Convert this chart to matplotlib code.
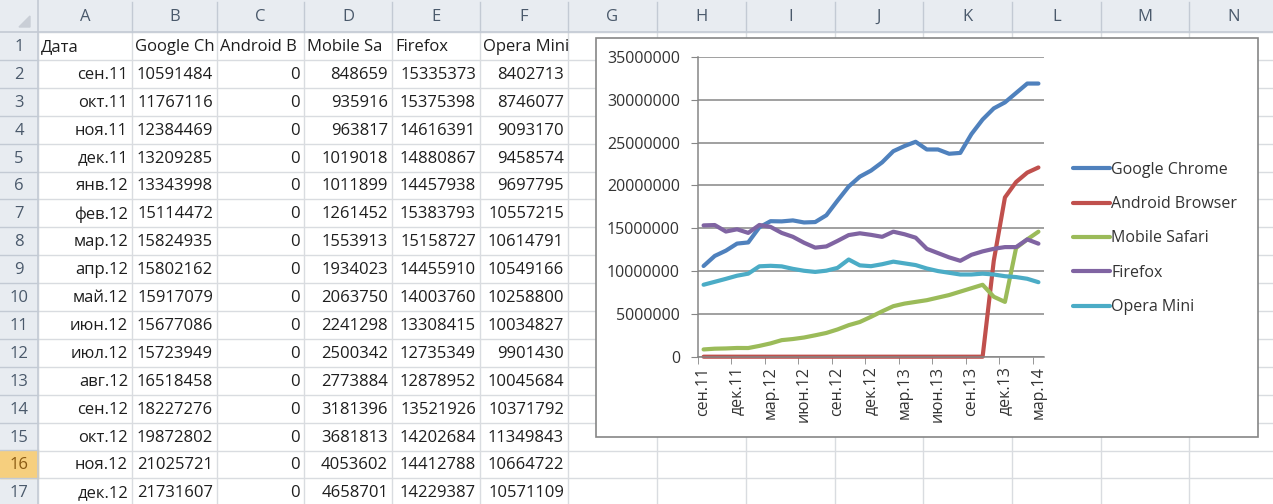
"""Excel screenshot: browser traffic table with a line chart."""

import matplotlib

matplotlib.use("Agg")

import matplotlib.pyplot as plt
from matplotlib.patches import Polygon, Rectangle
from matplotlib.ticker import StrMethodFormatter

# --- data -----------------------------------------------------------------
months = [
    "сен.11", "окт.11", "ноя.11", "дек.11", "янв.12", "фев.12", "мар.12",
    "апр.12", "май.12", "июн.12", "июл.12", "авг.12", "сен.12", "окт.12",
    "ноя.12", "дек.12", "янв.13", "фев.13", "мар.13", "апр.13", "май.13",
    "июн.13", "июл.13", "авг.13", "сен.13", "окт.13", "ноя.13", "дек.13",
    "янв.14", "фев.14", "мар.14",
]
series_names = ["Google Chrome", "Android Browser", "Mobile Safari", "Firefox", "Opera Mini"]
# header cells as the sheet shows them (long names are cut by the next cell)
header_cells = ["Дата", "Google Ch", "Android B", "Mobile Sa", "Firefox", "Opera Mini"]
chrome = [
    10591484, 11767116, 12384469, 13209285, 13343998, 15114472, 15824935,
    15802162, 15917079, 15677086, 15723949, 16518458, 18227276, 19872802,
    21025721, 21731607, 22700000, 24000000, 24600000, 25100000, 24200000,
    24200000, 23700000, 23800000, 26000000, 27700000, 29000000, 29700000,
    30800000, 31900000, 31900000,
]
android = [
    0, 0, 0, 0, 0, 0, 0, 0, 0, 0, 0, 0, 0, 0, 0, 0, 0, 0, 0, 0, 0, 0, 0, 0,
    0, 0, 11200000, 18600000, 20400000, 21500000, 22100000,
]
safari = [
    848659, 935916, 963817, 1019018, 1011899, 1261452, 1553913, 1934023,
    2063750, 2241298, 2500342, 2773884, 3181396, 3681813, 4053602, 4658701,
    5300000, 5900000, 6200000, 6400000, 6600000, 6900000, 7200000, 7600000,
    8000000, 8400000, 7000000, 6400000, 12700000, 13700000, 14600000,
]
firefox = [
    15335373, 15375398, 14616391, 14880867, 14457938, 15383793, 15158727,
    14455910, 14003760, 13308415, 12735349, 12878952, 13521926, 14202684,
    14412788, 14229387, 14000000, 14600000, 14300000, 13900000, 12600000,
    12100000, 11600000, 11200000, 11900000, 12300000, 12600000, 12800000,
    12800000, 13700000, 13200000,
]
opera = [
    8402713, 8746077, 9093170, 9458574, 9697795, 10557215, 10614791,
    10549166, 10258800, 10034827, 9901430, 10045684, 10371792, 11349843,
    10664722, 10571109, 10800000, 11100000, 10900000, 10700000, 10300000,
    10000000, 9800000, 9600000, 9600000, 9700000, 9600000, 9400000,
    9300000, 9100000, 8700000,
]
column_letters = ["A", "B", "C", "D", "E", "F", "G", "H", "I", "J", "K", "L", "M", "N"]
visible_rows = 16  # data rows shown in the sheet (rows 2..17)

# --- layout (pixels of the 1273x504 screenshot) ----------------------------
W, H = 1273, 504
col_edges = [0, 38, 132, 217, 304, 392, 480, 568, 657, 746, 835, 923, 1012, 1101, 1189, 1278]
header_h = 32
row_h = 27.9

HEAD_BG = "#E8ECF1"
HEAD_LINE = "#C3CAD4"
HEAD_TEXT = "#4A596B"
GRID = "#D9DCE0"
CELL_TEXT = "#1E1E1E"
SERIES_COLORS = ["#4F81BD", "#C0504D", "#9BBB59", "#8064A2", "#4BACC6"]
AXIS_GRAY = "#868686"

plt.rcParams["font.family"] = ["Open Sans", "DejaVu Sans"]

fig = plt.figure(figsize=(W / 100, H / 100), dpi=100)
sheet = fig.add_axes([0, 0, 1, 1])
sheet.set_xlim(0, W)
sheet.set_ylim(H, 0)
sheet.axis("off")


def row_top(r):
    return header_h + (r - 1) * row_h


# grid lines
for x in col_edges[1:]:
    sheet.plot([x, x], [header_h, H], color=GRID, lw=1)
for r in range(1, 19):
    y = row_top(r)
    sheet.plot([col_edges[1], W], [y, y], color=GRID, lw=1)

# column header strip
sheet.add_patch(Rectangle((0, 0), W, header_h, color=HEAD_BG, zorder=2))
sheet.plot([0, W], [header_h, header_h], color=HEAD_LINE, lw=1.2, zorder=3)
for i, letter in enumerate(column_letters):
    x0, x1 = col_edges[i + 1], col_edges[i + 2]
    sheet.plot([x1, x1], [2, header_h], color=HEAD_LINE, lw=1, zorder=3)
    sheet.text((x0 + x1) / 2, header_h / 2 + 1, letter, ha="center", va="center",
               fontsize=12, color=HEAD_TEXT, zorder=4)
sheet.add_patch(Polygon([[30, 27], [30, 16], [19, 27]], closed=True, color="#C9CED6", zorder=4))

# row header strip
sheet.add_patch(Rectangle((0, header_h), col_edges[1], H - header_h, color=HEAD_BG, zorder=2))
sheet.plot([col_edges[1], col_edges[1]], [0, H], color=HEAD_LINE, lw=1.2, zorder=3)
for r in range(1, visible_rows + 2):
    y0 = row_top(r)
    if r == 16:
        sheet.add_patch(Rectangle((0, y0), col_edges[1], row_h, color="#F6CF7E", zorder=2.5))
    sheet.plot([0, col_edges[1]], [y0 + row_h, y0 + row_h], color=HEAD_LINE, lw=1, zorder=3)
    sheet.text(col_edges[1] / 2, y0 + row_h / 2 + 1, str(r), ha="center", va="center",
               fontsize=12, color="#8A5A12" if r == 16 else HEAD_TEXT, zorder=4)


def cell_text(col, r, text, align):
    x0, x1 = col_edges[col + 1], col_edges[col + 2]
    y0 = row_top(r)
    x = x0 + 3 if align == "left" else x1 - 4
    sheet.text(x, y0 + row_h / 2 + 1, text, ha=align, va="center",
               fontsize=12, color=CELL_TEXT, zorder=5)


for c, name in enumerate(header_cells):
    cell_text(c, 1, name, "left")
columns = [chrome, android, safari, firefox, opera]
for k in range(visible_rows):
    cell_text(0, k + 2, months[k], "right")
    for c, values in enumerate(columns):
        cell_text(c + 1, k + 2, f"{values[k]}", "right")

# chart object box
sheet.add_patch(Rectangle((596, 38), 662, 399, facecolor="white", edgecolor=AXIS_GRAY,
                          lw=1.2, zorder=6))

# --- chart ------------------------------------------------------------------
ax = fig.add_axes([698 / W, (H - 356.7) / H, 346 / W, 299.7 / H])
ax.set_zorder(10)
ax.patch.set_alpha(0)
x = list(range(len(months)))
for values, name, color in zip(columns, series_names, SERIES_COLORS):
    ax.plot(x, values, color=color, lw=3, label=name, clip_on=False,
            solid_joinstyle="round", solid_capstyle="round")

ax.set_xlim(-0.5, len(months) - 0.5)
ax.set_ylim(0, 35000000)
ax.set_yticks(range(0, 35000001, 5000000))
ax.yaxis.set_major_formatter(StrMethodFormatter("{x:.0f}"))
ax.set_axisbelow(True)
ax.grid(axis="y", color=AXIS_GRAY, lw=1.1)
for side in ("top", "right"):
    ax.spines[side].set_visible(False)
for side in ("left", "bottom"):
    ax.spines[side].set_color(AXIS_GRAY)
    ax.spines[side].set_linewidth(1.1)

ax.set_xticks(x[::3])
ax.set_xticklabels(months[::3], rotation=90)
ax.set_xticks([i - 0.5 for i in x[::3]], minor=True)
ax.tick_params(axis="x", which="major", length=0, pad=7, labelsize=11.5, labelcolor="#333333")
ax.tick_params(axis="x", which="minor", length=5, color=AXIS_GRAY, direction="out")
ax.tick_params(axis="y", length=5, color=AXIS_GRAY, pad=8, labelsize=11.5, labelcolor="#333333")

ax.legend(loc="center left", bbox_to_anchor=(1073 / W, (H - 238.5) / H),
          bbox_transform=fig.transFigure, frameon=False, fontsize=11.5,
          handlelength=2.3, handletextpad=0.1, labelspacing=1.15,
          borderpad=0, borderaxespad=0, labelcolor="#333333")

fig.savefig("out.png", dpi=100)
plt.close(fig)
